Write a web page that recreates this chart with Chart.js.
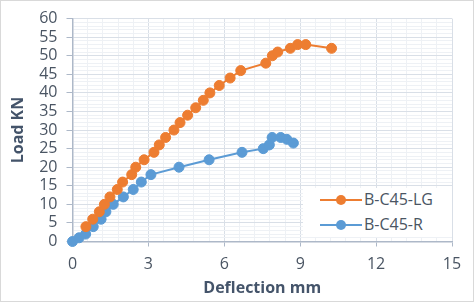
<!DOCTYPE html>
<html>
<head>
<meta charset="utf-8">
<script src="https://cdn.jsdelivr.net/npm/chart.js@4"></script>
<style>
  html, body { margin: 0; padding: 0; background: #fff; }
  #wrap { position: relative; width: 474px; height: 302px; }
  #frame { position: absolute; left: 0; top: 0; width: 472px; height: 300px; border: 1px solid #d9d9d9; pointer-events: none; }
  #legend { position: absolute; left: 303px; top: 188px; width: 149px; height: 49px; background: #fff;
    font-family: "Open Sans", sans-serif; font-size: 16px; color: #4a5563; }
  .item { position: absolute; left: 17px; height: 20px; }
  .item .ln { position: absolute; left: 0; top: 9px; width: 42px; height: 2px; }
  .item .dot { position: absolute; left: 16px; top: 5px; width: 10px; height: 10px; border-radius: 50%; }
  .item .tx { position: absolute; left: 44px; top: -2px; white-space: nowrap; }
</style>
</head>
<body>
<div id="wrap">
  <canvas id="chart" width="474" height="302"></canvas>
  <div id="legend"></div>
  <div id="frame"></div>
</div>
<script>
// data
const lgDeflection = [0.53, 0.8, 1.06, 1.26, 1.48, 1.77, 1.98, 2.34, 2.5, 2.83, 3.22, 3.43, 3.68, 4.01, 4.25, 4.55, 4.87, 5.17, 5.43, 5.8, 6.23, 6.65, 7.64, 7.9, 8.11, 8.61, 8.9, 9.22, 10.24];
const lgLoad = [4, 6, 8, 10, 12, 14, 16, 18, 20, 22, 24, 26, 28, 30, 32, 34, 36, 38, 40, 42, 44, 46, 48, 50, 51, 52, 53, 53, 52];
const rDeflection = [0, 0.26, 0.52, 0.82, 1.13, 1.32, 1.61, 2.01, 2.4, 2.72, 3.1, 4.21, 5.4, 6.7, 7.54, 7.78, 7.89, 8.23, 8.47, 8.73];
const rLoad = [0, 1, 2, 4, 6, 8, 10, 12, 14, 16, 18, 20, 22, 24, 25, 26, 28, 28, 27.5, 26.5];
const seriesNames = ["B-C45-LG", "B-C45-R"];
const seriesColors = ["#ED7D31", "#5B9BD5"];

const FONT = "'Open Sans', sans-serif";
const TICK_COLOR = "#4a5563";
const TITLE_COLOR = "#44546a";
const AXIS_COLOR = "#adb8c8";
const MAJOR_GRID = "#d9dfe7";
const MINOR_GRID = "#eef1f5";

function isMultiple(v, step) {
  return Math.abs(v / step - Math.round(v / step)) < 1e-6;
}

function toPoints(xs, ys) {
  return xs.map((x, i) => ({ x, y: ys[i] }));
}

const datasets = [
  { label: seriesNames[0], data: toPoints(lgDeflection, lgLoad) },
  { label: seriesNames[1], data: toPoints(rDeflection, rLoad) },
].map((d, i) => ({
  ...d,
  showLine: true,
  borderColor: seriesColors[i],
  backgroundColor: seriesColors[i],
  pointBackgroundColor: seriesColors[i],
  pointBorderColor: seriesColors[i],
  borderWidth: 2,
  pointRadius: 5,
  pointBorderWidth: 1,
  clip: false,
}));

new Chart(document.getElementById("chart"), {
  type: "scatter",
  data: { datasets },
  options: {
    responsive: false,
    animation: false,
    events: [],
    layout: { padding: { top: 15, right: 22, left: 0, bottom: 0 } },
    plugins: { legend: { display: false }, tooltip: { enabled: false } },
    scales: {
      x: {
        type: "linear",
        min: 0,
        max: 15,
        afterFit: (s) => { s.height = 60.5; },
        ticks: {
          stepSize: 0.6,
          autoSkip: false,
          maxRotation: 0,
          padding: 8,
          color: TICK_COLOR,
          font: { family: FONT, size: 16 },
          callback: (v) => (isMultiple(v, 3) ? String(Math.round(v)) : ""),
        },
        grid: {
          color: (c) => (isMultiple(c.tick.value, 3) ? MAJOR_GRID : MINOR_GRID),
          tickColor: (c) => (isMultiple(c.tick.value, 3) && c.tick.value > 0 ? AXIS_COLOR : "rgba(0,0,0,0)"),
          tickLength: 5,
          lineWidth: 1,
        },
        border: { color: AXIS_COLOR, width: 1.5 },
        title: {
          display: true,
          text: "Deflection mm",
          color: TITLE_COLOR,
          font: { family: FONT, size: 16, weight: "bold" },
          padding: { top: 0, bottom: 4 },
        },
      },
      y: {
        min: 0,
        max: 60,
        afterFit: (s) => { s.width = 72.5; },
        ticks: {
          stepSize: 1,
          autoSkip: false,
          padding: 9,
          color: TICK_COLOR,
          font: { family: FONT, size: 16 },
          callback: (v) => (isMultiple(v, 5) ? String(Math.round(v)) : ""),
        },
        grid: {
          color: (c) => (isMultiple(c.tick.value, 5) ? MAJOR_GRID : MINOR_GRID),
          tickColor: (c) => (isMultiple(c.tick.value, 5) ? AXIS_COLOR : "rgba(0,0,0,0)"),
          tickLength: 6,
          lineWidth: 1,
        },
        border: { color: AXIS_COLOR, width: 1.5 },
        title: {
          display: true,
          text: "Load KN",
          color: TITLE_COLOR,
          font: { family: FONT, size: 16, weight: "bold" },
          padding: { top: 9, bottom: 0 },
        },
      },
    },
  },
});

// legend box sitting inside the plot area, as in the reference
const legendEl = document.getElementById("legend");
seriesNames.forEach((name, i) => {
  const row = document.createElement("div");
  row.className = "item";
  row.style.top = (2 + i * 25) + "px";
  row.innerHTML = `<div class="ln" style="background:${seriesColors[i]}"></div>` +
    `<div class="dot" style="background:${seriesColors[i]}"></div>` +
    `<div class="tx">${name}</div>`;
  legendEl.appendChild(row);
});
</script>
</body>
</html>
